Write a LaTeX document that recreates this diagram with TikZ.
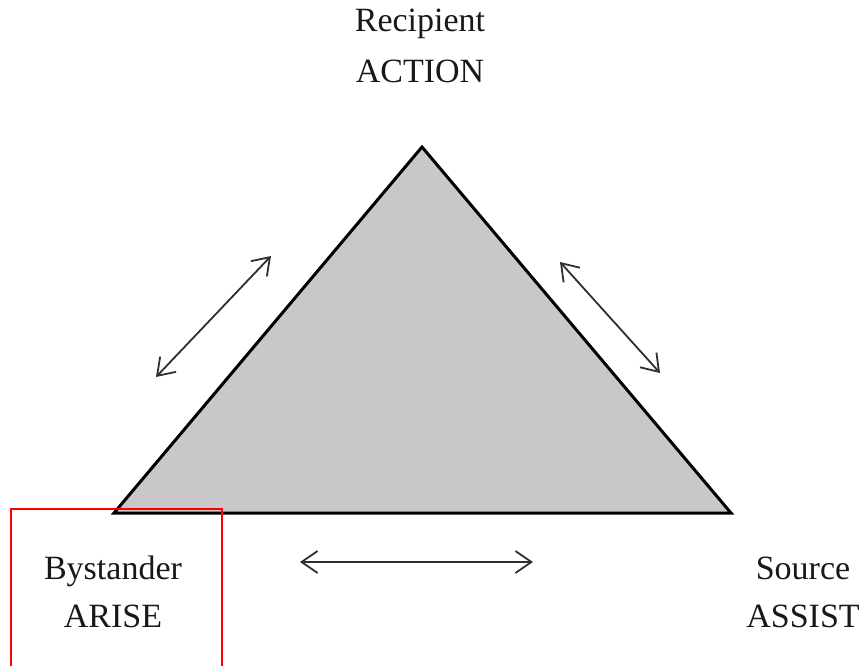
\documentclass[tikz,border=0pt]{standalone}
\usepackage{fontspec}
\setmainfont{Liberation Serif}
\usetikzlibrary{arrows.meta}
\definecolor{trifill}{RGB}{200,200,203}
\definecolor{ink}{RGB}{24,24,24}
\begin{document}
\begin{tikzpicture}[x=1pt,y=-1pt,
  lbl/.style={anchor=base,inner sep=0pt,text=ink,font=\fontsize{34}{40}\selectfont},
  vertex/.style={coordinate},
  link/.style={draw=ink!90,line width=1.8pt,{Straight Barb[length=16pt,width=22pt,line width=1.8pt]}-{Straight Barb[length=16pt,width=22pt,line width=1.8pt]}}]
\useasboundingbox (0,0) rectangle (866,666);

% triangle corners
\coordinate (top) at (422,147);
\coordinate (bl) at (114,513);
\coordinate (br) at (731,513);
\draw[fill=trifill,draw=black,line width=3pt,line join=miter] (top) -- (br) -- (bl) -- cycle;

% labels at the corners
\node[lbl] (rec) at (420,32) {Recipient};
\node[lbl] (act) at (420,83) {ACTION};
\node[lbl] (bys) at (113,579) {Bystander};
\node[lbl] (ari) at (113,627) {ARISE};
\node[lbl] (src) at (803,579) {Source};
\node[lbl] (ass) at (803,627) {ASSIST};

% two-way arrows beside each side
\coordinate (la) at (156,377);
\coordinate (lb) at (271,256);
\coordinate (ra) at (560,262);
\coordinate (rb) at (660,373);
\coordinate (ba) at (300,562);
\coordinate (bb) at (533,562);
\draw[link] (la) -- (lb);
\draw[link] (ra) -- (rb);
\draw[link] (ba) -- (bb);

% highlight frame
\coordinate (f1) at (10.5,666);
\coordinate (f2) at (10.5,509);
\coordinate (f3) at (222,509);
\coordinate (f4) at (222,666);
\draw[red,line width=2pt] (f1) -- (f2) -- (f3) -- (f4);
\end{tikzpicture}
\end{document}
